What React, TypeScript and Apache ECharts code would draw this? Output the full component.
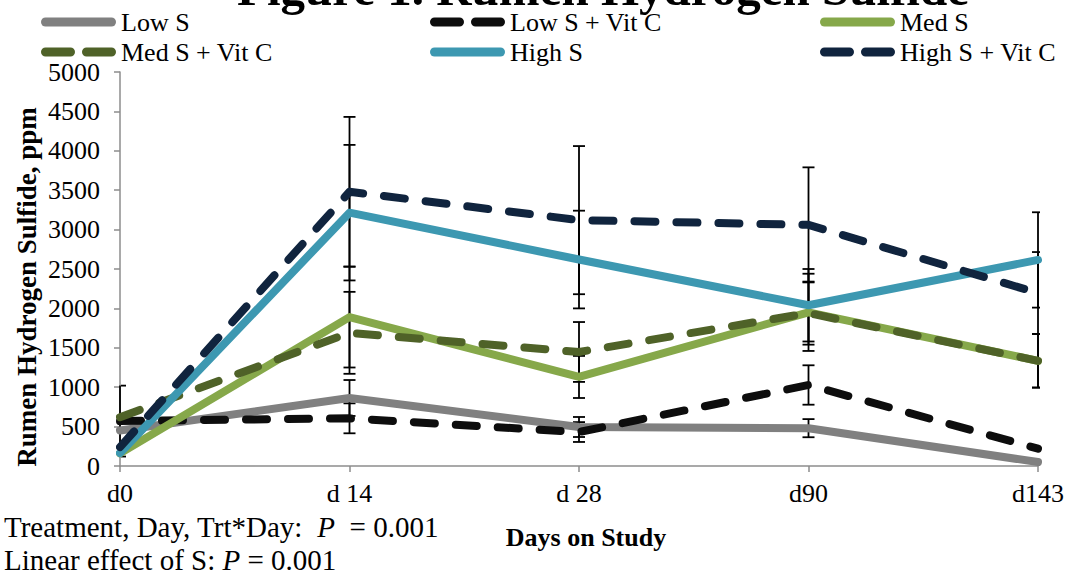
import React, { useEffect, useRef } from "react";
import * as echarts from "echarts";

const categories = ["d0", "d 14", "d 28", "d90", "d143"];
const seriesNames = ["Low S", "Low S + Vit C", "Med S", "Med S + Vit C", "High S", "High S + Vit C"];
const lowS = [450, 863, 495, 480, 50];
const lowSVitC = [570, 605, 431, 1028, 220];
const medS = [160, 1890, 1130, 1950, 1335];
const medSVitC = [620, 1690, 1447, 1940, 1335];
const highS = [165, 3215, 2620, 2040, 2615];
const highSVitC = [240, 3480, 3120, 3060, 2195];
// standard error half-widths
const lowSErr = [0, 228, 127, 115, 0];
const lowSVitCErr = [450, 190, 126, 250, 0];
const medSErr = [0, 640, 267, 490, 340];
const medSVitCErr = [0, 520, 380, 400, 340];
const highSErr = [0, 860, 620, 460, 605];
const highSVitCErr = [0, 950, 940, 730, 520];
const yTicks = { min: 0, max: 5000, interval: 500 };

const colors = ["#808080", "#0d0d0d", "#86a84a", "#4f6228", "#3d98b1", "#10243e"];
const dashed = [false, true, false, true, false, true];
const values = [lowS, lowSVitC, medS, medSVitC, highS, highSVitC];
const errs = [lowSErr, lowSVitCErr, medSErr, medSVitCErr, highSErr, highSVitCErr];

const FONT = "Liberation Serif";
const SOLID_ICON = "path://M4.5,0 L70.5,0 A4.5,4.5 0 0 1 70.5,9 L4.5,9 A4.5,4.5 0 0 1 4.5,0 Z";
const DASH_ICON =
  "path://M4.5,0 L29.5,0 A4.5,4.5 0 0 1 29.5,9 L4.5,9 A4.5,4.5 0 0 1 4.5,0 Z M45.5,0 L70.5,0 A4.5,4.5 0 0 1 70.5,9 L45.5,9 A4.5,4.5 0 0 1 45.5,0 Z";

const legendPos = [
  { left: 41, top: 9 },
  { left: 430, top: 9 },
  { left: 820, top: 9 },
  { left: 41, top: 39 },
  { left: 430, top: 39 },
  { left: 820, top: 39 },
];

export default function App() {
  const ref = useRef<HTMLDivElement>(null);
  useEffect(() => {
    if (!ref.current) return;
    const chart = echarts.init(ref.current, undefined, { renderer: "svg" });

    const errData: any[] = [];
    values.forEach((vals, s) => {
      vals.forEach((v, i) => {
        const e = errs[s][i];
        if (e > 0) errData.push([i, v - e, v + e]);
      });
    });

    const lineSeries = seriesNames.map((name, s) => ({
      name,
      type: "line",
      data: values[s],
      symbol: "none",
      z: 3 + s,
      lineStyle: {
        color: colors[s],
        width: 8,
        type: dashed[s] ? [21, 21] : "solid",
        cap: "round",
        join: "round",
      },
      itemStyle: { color: colors[s] },
    }));

    const legends = seriesNames.map((name, s) => ({
      show: true,
      left: legendPos[s].left,
      top: legendPos[s].top,
      padding: 0,
      itemWidth: 75,
      itemHeight: 9,
      selectedMode: false,
      data: [{ name, icon: dashed[s] ? DASH_ICON : SOLID_ICON }],
      textStyle: { fontFamily: FONT, fontSize: 26, color: "#000" },
    }));

    chart.setOption({
      animation: false,
      backgroundColor: "#fff",
      textStyle: { fontFamily: FONT },
      grid: { left: 120, right: 27, top: 72, bottom: 110, containLabel: false },
      legend: legends,
      xAxis: {
        type: "category",
        data: categories,
        boundaryGap: false,
        name: "Days on Study",
        nameLocation: "middle",
        nameGap: 58,
        nameTextStyle: {
          fontFamily: FONT,
          fontSize: 26,
          fontWeight: "bold",
          color: "#000",
          padding: [0, 0, 0, 14],
        },
        axisLine: { lineStyle: { color: "#8c8c8c", width: 1.5 } },
        axisTick: { show: true, length: 6, lineStyle: { color: "#8c8c8c", width: 1.5 } },
        axisLabel: { fontFamily: FONT, fontSize: 26, color: "#000", margin: 14 },
        splitLine: { show: false },
      },
      yAxis: {
        type: "value",
        min: yTicks.min,
        max: yTicks.max,
        interval: yTicks.interval,
        axisLine: { show: true, lineStyle: { color: "#8c8c8c", width: 1.5 } },
        axisTick: { show: true, length: 6, lineStyle: { color: "#8c8c8c", width: 1.5 } },
        axisLabel: {
          fontFamily: FONT,
          fontSize: 26,
          color: "#000",
          margin: 20,
          formatter: (v: number) => String(v),
        },
        splitLine: { show: false },
      },
      series: [
        {
          type: "custom",
          name: "error",
          clip: false,
          z: 1,
          data: errData,
          encode: { x: 0, y: [1, 2] },
          renderItem: (params: any, api: any) => {
            const cs = params.coordSys;
            const x = api.value(0);
            const lo = api.value(1);
            const hi = api.value(2);
            const p1 = api.coord([x, hi]);
            const p2 = api.coord([x, lo]);
            const hw = 6;
            const xl = Math.max(p1[0] - hw, cs.x + 1);
            const xr = Math.min(p1[0] + hw, cs.x + cs.width + 2);
            const style = { stroke: "#000", lineWidth: 1.8 };
            return {
              type: "group",
              children: [
                { type: "line", shape: { x1: p1[0], y1: p1[1], x2: p2[0], y2: p2[1] }, style },
                { type: "line", shape: { x1: xl, y1: p1[1], x2: xr, y2: p1[1] }, style },
                { type: "line", shape: { x1: xl, y1: p2[1], x2: xr, y2: p2[1] }, style },
              ],
            };
          },
        },
        ...lineSeries,
      ],
      graphic: [
        {
          type: "text",
          x: 603,
          y: -12,
          style: {
            text: "Figure 1. Rumen Hydrogen Sulfide",
            fontFamily: FONT,
            fontSize: 49,
            fontWeight: "bold",
            fill: "#000",
            align: "center",
            verticalAlign: "middle",
          },
        },
        {
          type: "text",
          x: 27,
          y: 287,
          rotation: Math.PI / 2,
          style: {
            text: "Rumen Hydrogen Sulfide, ppm",
            fontFamily: FONT,
            fontSize: 27,
            fontWeight: "bold",
            fill: "#000",
            align: "center",
            verticalAlign: "middle",
          },
        },
        {
          type: "text",
          x: 4,
          y: 527,
          style: {
            text: "Treatment, Day, Trt*Day:  {i|P}  = 0.001",
            fontFamily: FONT,
            fontSize: 29,
            fill: "#000",
            verticalAlign: "middle",
            rich: { i: { fontFamily: FONT, fontSize: 29, fontStyle: "italic", fill: "#000" } },
          },
        },
        {
          type: "text",
          x: 4,
          y: 560,
          style: {
            text: "Linear effect of S: {i|P} = 0.001",
            fontFamily: FONT,
            fontSize: 29,
            fill: "#000",
            verticalAlign: "middle",
            rich: { i: { fontFamily: FONT, fontSize: 29, fontStyle: "italic", fill: "#000" } },
          },
        },
      ],
    });
    return () => chart.dispose();
  }, []);
  return (
    <div
      ref={ref}
      style={{ position: "fixed", left: 0, top: 0, width: 1067, height: 576, background: "#fff" }}
    />
  );
}
